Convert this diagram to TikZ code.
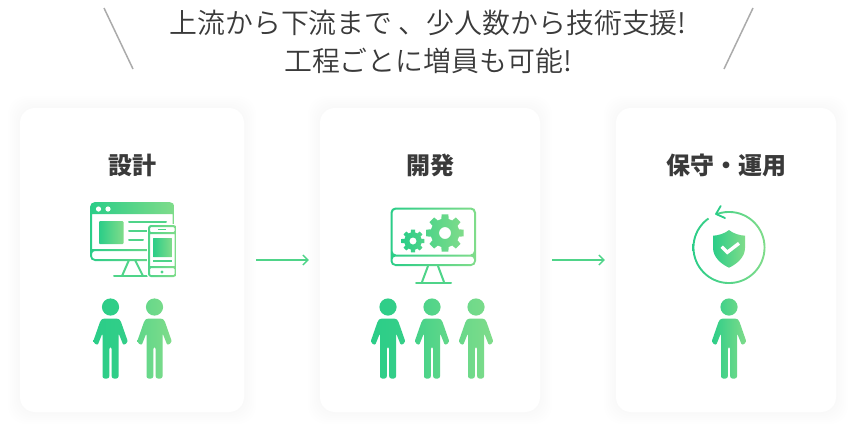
\documentclass[tikz,border=0pt]{standalone}
\usepackage{fontspec}
\setmainfont{Noto Sans CJK JP}
\newfontfamily\lightcjk{Noto Sans CJK JP DemiLight}
\usetikzlibrary{arrows.meta,positioning}

\definecolor{greenL}{HTML}{2BCD88}
\definecolor{greenM}{HTML}{4FD489}
\definecolor{greenR}{HTML}{80DC8A}
\definecolor{inkgray}{HTML}{3A3A3A}
\definecolor{slashgray}{HTML}{ABABAB}

\tikzset{
  card/.style={fill=white,rounded corners=15,minimum height=304,inner sep=0},
  cardtitle/.style={font=\fontsize{24}{28}\selectfont\bfseries,text=inkgray},
  headline/.style={font=\lightcjk\fontsize{27.9}{38.5}\selectfont,text=inkgray,align=center},
  slash/.style={color=slashgray,line width=1.5},
  flowarrow/.style={color=greenM,line width=1.3,-{Straight Barb[length=5,width=10]}},
  iconline/.style={line width=2,line cap=round},
  gradfill/.style={left color=#1,right color=greenR},
  gradfill/.default=greenL
}

% one standing figure: x of the head, left colour, right colour
\newcommand{\person}[3]{
  \shade[left color=#2,right color=#3,shift={(#1,307)}] (0,0) circle (8.6)
    [rounded corners=2.2] (-7.5,11.5) -- (7.5,11.5) -- (10,13.5) -- (17.5,35) -- (13,38.5) -- (8,26)
    -- (8,71.5) -- (1.2,71.5) -- (1.2,40) -- (-1.2,40) -- (-1.2,71.5) -- (-8,71.5) -- (-8,26)
    -- (-13,38.5) -- (-17.5,35) -- (-10,13.5) -- cycle;
}
% gear: x, y, outer radius, hole radius, left colour, right colour
\newcommand{\gearicon}[6]{
  \pgfmathsetmacro{\rin}{#3*0.76}
  \shade[left color=#5,right color=#6,even odd rule,shift={(#1,#2)}] (-15:\rin)
    foreach \a in {0,45,...,315} { -- (\a-15:\rin) -- (\a-10:#3) -- (\a+10:#3) -- (\a+15:\rin) } -- cycle
    (0,0) circle (#4);
}

\begin{document}
\begin{tikzpicture}[x=1pt,y=-1pt]
  \useasboundingbox (0,0) rectangle (856,432);

  % soft shadows under the cards
  \foreach \xa/\xb in {20/244,320/540,616/836}
    \foreach \s in {12,10,8,6,4,2}
      \fill [black,opacity=0.004,rounded corners=18] (\xa-\s,108-\s) rectangle (\xb+\s,412+\s);

  \node [card,minimum width=224] (design) at (132,260) {};
  \node [card,minimum width=220] (develop) at (430,260) {};
  \node [card,minimum width=220] (operate) at (726,260) {};

  \node [headline] (headline) at (428,42) {上流から下流まで 、少人数から技術支援!\\工程ごとに増員も可能!};
  \coordinate (slashAtop) at (104,8);
  \coordinate (slashAend) at (133,69);
  \coordinate (slashBtop) at (753,8);
  \coordinate (slashBend) at (724,69);
  \draw [slash] (slashAtop) -- (slashAend);
  \draw [slash] (slashBtop) -- (slashBend);

  \node [cardtitle] (designtitle) at (132,165) {設計};
  \node [cardtitle] (developtitle) at (430,165) {開発};
  \node [cardtitle] (operatetitle) at (726,165) {保守・運用};

  \draw [flowarrow,shorten <=12,shorten >=11] (design) -- (develop);
  \draw [flowarrow,shorten <=12,shorten >=11] (develop) -- (operate);

  % desktop and phone
  \shade [gradfill,even odd rule,rounded corners=5] (90,202) rectangle (174.5,261)
    [rounded corners=0] (92,214) rectangle (172.5,249)
    [rounded corners=3] (92,251) rectangle (172.5,259);
  \fill [white] (98.5,209) circle (2.6) (108,209) circle (2.6);
  \shade [gradfill,rounded corners=1] (99,221) rectangle (123.5,244);
  \draw [iconline,color=greenM] (129,222) -- (166,222) (129,231) -- (148,231) (129,240) -- (143,240);
  \draw [iconline,color=greenM,line cap=butt,line join=round] (129,260) -- (122,276) (135,260) -- (143,276);
  \draw [iconline,color=greenM] (114,276) -- (148,276);
  \fill [white,rounded corners=3] (147,224) rectangle (178,278);
  \shade [gradfill=greenM,even odd rule,rounded corners=3] (148,225) rectangle (176.5,277)
    [rounded corners=1] (150,227) rectangle (174.5,232)
    [rounded corners=0] (150,234) rectangle (174.5,266)
    [rounded corners=1] (150,268) rectangle (174.5,275);
  \shade [gradfill,rounded corners=0.5] (153,238) rectangle (172,257);
  \draw [color=greenM,line width=1.4] (158,229.5) -- (166,229.5) (153,261) -- (172,261);
  \fill [greenM] (162,272) circle (1.6);

  % desktop with gears
  \shade [gradfill,even odd rule,rounded corners=5] (390.5,207.5) rectangle (476,266)
    [rounded corners=3.5] (392.5,209.5) rectangle (474,254.5)
    [rounded corners=3] (392.5,256.5) rectangle (474,264);
  \draw [iconline,color=greenM,line cap=butt] (428,266) -- (422,282) (438,266) -- (444,282);
  \draw [iconline,color=greenM] (416,282.5) -- (451,282.5);
  \gearicon{413}{241}{11.5}{3.6}{greenL}{greenM}
  \gearicon{445}{233}{19}{6}{greenM}{greenR}

  % shield in a turning circle
  \shade [gradfill,even odd rule] (729,247.5) circle (36.5) (729,247.5) circle (34.6);
  \fill [white] (729,247.5) -- +(-110:42) -- +(-125:42) -- cycle;
  \draw [iconline,color=greenL,line join=round,line width=1.8] (720.7,206) -- (716,214) -- (725,218);
  \shade [gradfill,line join=round] (729,230) .. controls (733,233.5) and (740,235.5) .. (745,235.7)
    -- (745,248) .. controls (745,257) and (737,264) .. (729,267.7)
    .. controls (721,264) and (713,257) .. (713,248) -- (713,235.7)
    .. controls (718,235.5) and (725,233.5) .. (729,230) -- cycle;
  \draw [white,line width=3.4] (721.7,246.7) -- (727.3,252.3) -- (739,243.3);

  % people
  \person{110.5}{greenL}{greenL!80!greenM}
  \person{154.5}{greenM!70!greenR}{greenR}
  \person{388}{greenL}{greenL!70!greenM}
  \person{432}{greenL!30!greenM}{greenM!60!greenR}
  \person{476}{greenM!50!greenR}{greenR}
  \person{729}{greenL}{greenR}
\end{tikzpicture}
\end{document}
